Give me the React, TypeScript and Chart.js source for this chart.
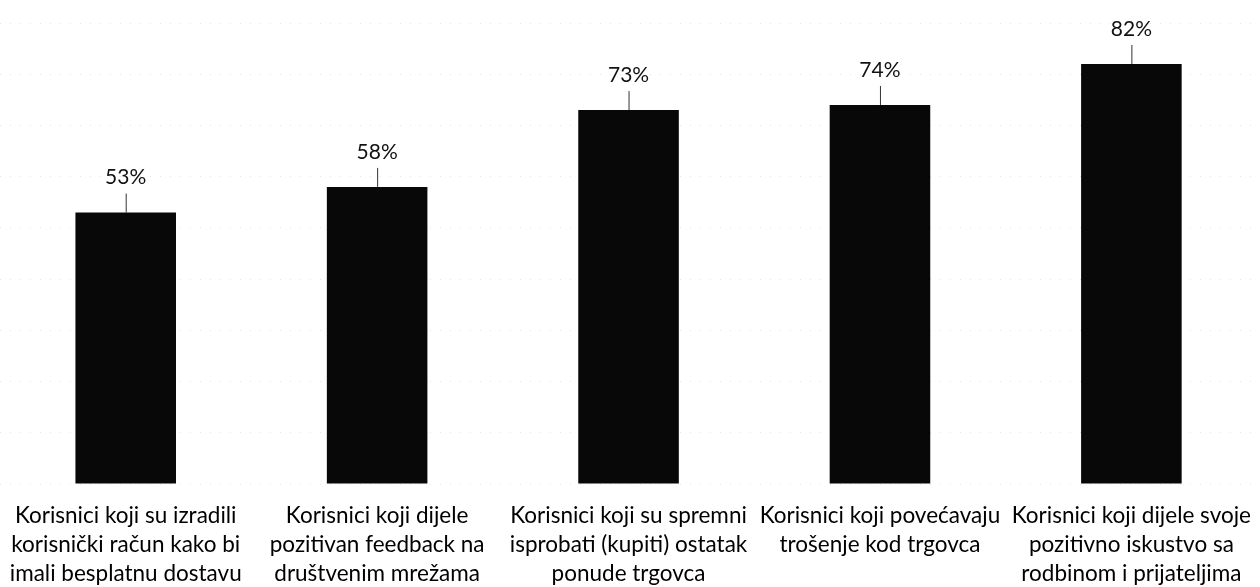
import React, { useEffect, useRef } from "react";
import { Chart, registerables } from "chart.js";

Chart.register(...registerables);

const categories: string[][] = [
  ["Korisnici koji su izradili", "korisnički račun kako bi", "imali besplatnu dostavu"],
  ["Korisnici koji dijele", "pozitivan feedback na", "društvenim mrežama"],
  ["Korisnici koji su spremni", "isprobati (kupiti) ostatak", "ponude trgovca"],
  ["Korisnici koji povećavaju", "trošenje kod trgovca"],
  ["Korisnici koji dijele svoje", "pozitivno iskustvo sa", "rodbinom i prijateljima"],
];
const values: number[] = [53, 58, 73, 74, 82];
const valueLabels: string[] = ["53%", "58%", "73%", "74%", "82%"];

const FONT = "Lato, 'DejaVu Sans', sans-serif";

const leaderLabels = {
  id: "leaderLabels",
  afterDatasetsDraw(chart: any) {
    const ctx = chart.ctx;
    const meta = chart.getDatasetMeta(0);
    ctx.save();
    meta.data.forEach((bar: any, i: number) => {
      const x = bar.x;
      const y = bar.y;
      ctx.strokeStyle = "#333";
      ctx.lineWidth = 1;
      ctx.beginPath();
      ctx.moveTo(x + 0.5, y - 19);
      ctx.lineTo(x + 0.5, y);
      ctx.stroke();
      ctx.fillStyle = "#111";
      ctx.font = `21px ${FONT}`;
      ctx.textAlign = "center";
      ctx.textBaseline = "middle";
      ctx.fillText(valueLabels[i], x, y - 35);
    });
    ctx.restore();
  },
};

export default function App() {
  const ref = useRef<HTMLCanvasElement>(null);
  useEffect(() => {
    if (!ref.current) return;
    const chart = new Chart(ref.current, {
      type: "bar",
      data: {
        labels: categories,
        datasets: [
          {
            data: values,
            backgroundColor: "#080808",
            categoryPercentage: 1,
            barPercentage: 0.4,
          },
        ],
      },
      options: {
        animation: false,
        responsive: false,
        maintainAspectRatio: false,
        layout: { padding: { top: 23, left: 0, right: 0, bottom: 0 } },
        plugins: { legend: { display: false }, tooltip: { enabled: false } },
        scales: {
          x: {
            grid: { display: false },
            border: { display: false },
            ticks: {
              color: "#000",
              autoSkip: false,
              maxRotation: 0,
              minRotation: 0,
              padding: 9,
              font: { family: FONT, size: 22.5, lineHeight: 1.29 },
            },
            afterFit(scale: any) {
              scale.height = 103;
            },
          },
          y: {
            min: 0,
            max: 90,
            ticks: { display: false, stepSize: 10 },
            border: { display: false, dash: [1, 9] },
            grid: {
              color: "rgba(0,0,0,0.10)",
              drawTicks: false,
            },
            afterFit(scale: any) {
              scale.width = 0;
            },
          } as any,
        },
      },
      plugins: [leaderLabels],
    } as any);
    return () => chart.destroy();
  }, []);
  return (
    <div style={{ position: "absolute", left: 0, top: 0, width: 1260, height: 587, background: "#fff" }}>
      <canvas ref={ref} width={1260} height={587} />
    </div>
  );
}
